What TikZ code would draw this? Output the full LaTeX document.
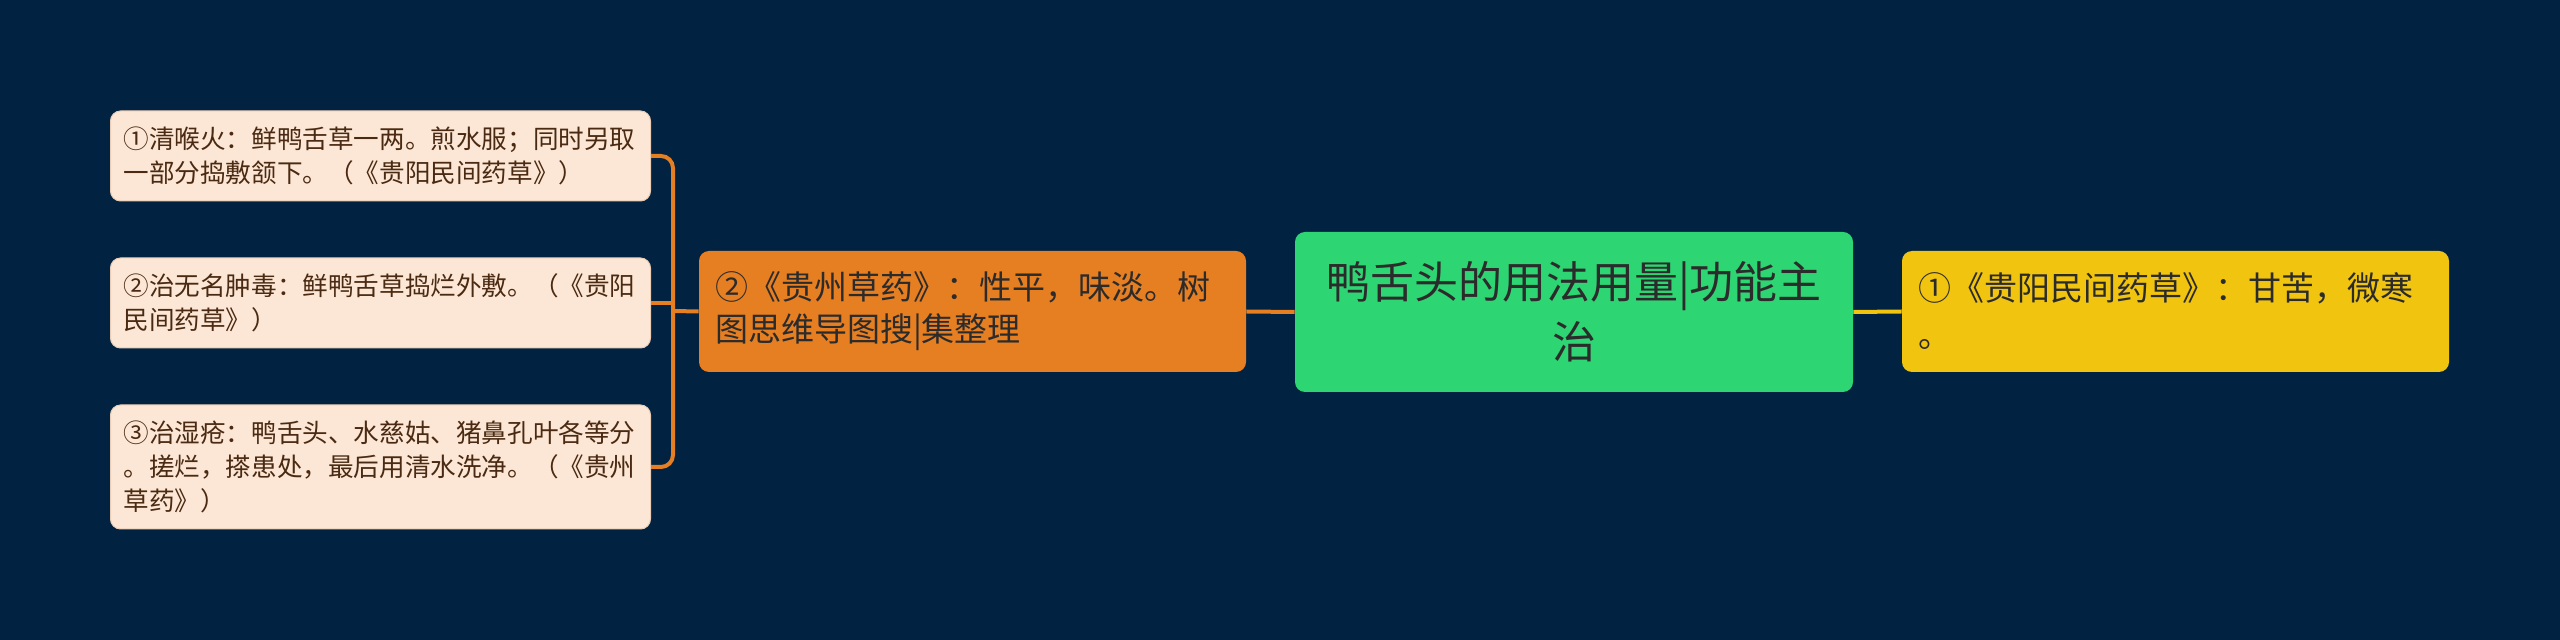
\documentclass[tikz,border=0pt]{standalone}
\usepackage{fontspec}
\setmainfont{Noto Sans CJK SC}
\definecolor{bgnavy}{HTML}{012240}
\definecolor{rootgreen}{HTML}{2ED573}
\definecolor{branchorange}{HTML}{E67E22}
\definecolor{branchyellow}{HTML}{F1C40F}
\definecolor{leafpeach}{HTML}{FCE7D6}
\definecolor{leafedge}{HTML}{E9CDB6}
\definecolor{leafink}{HTML}{4A2A12}
\definecolor{darkink}{HTML}{2B2B2B}
\tikzset{
  leafbox/.style={draw=leafedge, line width=0.5pt, fill=leafpeach, rounded corners=5pt,
    text=leafink, align=left, inner xsep=6.5pt, inner ysep=0pt, text width=257pt,
    minimum height=#1, font=\fontsize{12.8}{17}\selectfont},
  branchbox/.style={fill=#1, rounded corners=5pt, text=darkink, align=left,
    inner xsep=8pt, inner ysep=0pt, text width=257.5pt, minimum height=60.5pt},
  rootbox/.style={fill=rootgreen, rounded corners=5pt, text=darkink, align=center,
    inner xsep=8pt, inner ysep=0pt, text width=263pt, minimum height=80pt,
    font=\fontsize{22}{30}\selectfont},
  link/.style={line width=2pt, #1}
}
\begin{document}
\begin{tikzpicture}[x=0.5pt,y=-0.5pt]
  % Background
  \fill[bgnavy] (0,0) rectangle (2560,640);
  \useasboundingbox (0,0) rectangle (2560,640);

  % Root and branches
  \node[rootbox] (root) at (1574,312) {鸭舌头的用法用量|功能主\\治};
  \node[branchbox=branchorange, font=\fontsize{16.5}{21}\selectfont] (taste) at (972.5,311.5)
    {②《贵州草药》：性平，味淡。树\\图思维导图搜|集整理};
  \node[branchbox=branchyellow, font=\fontsize{16.5}{23.5}\selectfont] (nature) at (2175.5,311.5)
    {①《贵阳民间药草》：甘苦，微寒\\。};

  % Leaves
  \node[leafbox=45pt] (throat) at (380.5,156)
    {①清喉火：鲜鸭舌草一两。煎水服；同时另取\\一部分捣敷颔下。（《贵阳民间药草》）};
  \node[leafbox=45pt] (swell) at (380.5,303)
    {②治无名肿毒：鲜鸭舌草捣烂外敷。（《贵阳\\民间药草》）};
  \node[leafbox=62pt] (sore) at (380.5,467)
    {③治湿疮：鸭舌头、水慈姑、猪鼻孔叶各等分\\。搓烂，搽患处，最后用清水洗净。（《贵州\\草药》）};

  % Connectors
  \coordinate (trunk) at (673,311);
  \draw[link=branchorange] (root.west) -- (taste.east);
  \draw[link=branchyellow] (root.east) -- (nature.west);
  \draw[link=branchorange] (taste.west) -- (trunk);
  \draw[link=branchorange, rounded corners=6pt] (throat.east) -| (trunk);
  \draw[link=branchorange, rounded corners=6pt] (sore.east) -| (trunk);
  \draw[link=branchorange] (swell.east) -- (swell.east -| trunk);
\end{tikzpicture}
\end{document}
